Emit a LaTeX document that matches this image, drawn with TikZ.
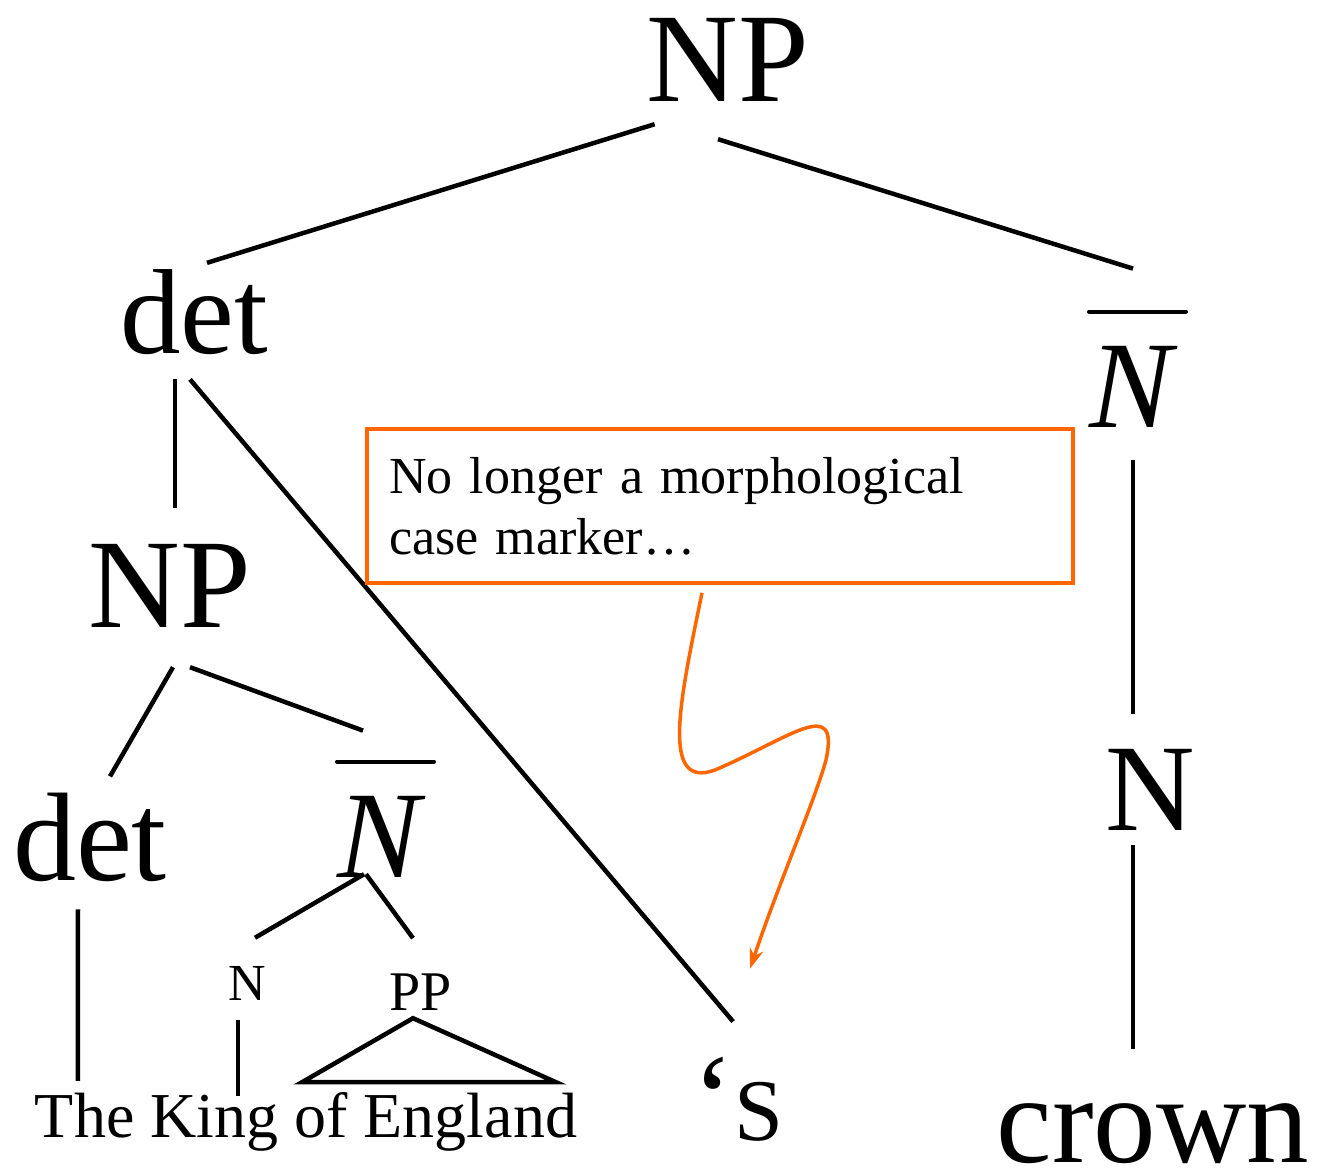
\documentclass[tikz,border=0pt]{standalone}
\usepackage{fontspec}
\setmainfont{Liberation Serif}
\usetikzlibrary{calc,arrows.meta}
\definecolor{calloutorange}{RGB}{255,102,0}

\begin{document}
\begin{tikzpicture}[x=1pt, y=-1pt, >={Stealth[length=20pt,width=14pt]},
    branch/.style={line width=4.5pt},
    cat/.style={anchor=base, inner sep=0pt, font=\fontsize{125}{125}\selectfont},
    leaf/.style={anchor=base, inner sep=0pt, font=\fontsize{#1}{#1}\selectfont}]
    \useasboundingbox (0,0) rectangle (1319,1175);

    % Categories
    \node[cat, font=\fontsize{127}{127}\selectfont] (npTop) at (728,101) {NP};
    \node[cat, font=\fontsize{121}{121}\selectfont] (detA) at (194,353) {det};
    \node[cat, font=\fontsize{124}{124}\selectfont] (nbarR) at (1134,427) {\textit{N}};
    \node[cat, font=\fontsize{127}{127}\selectfont] (npMid) at (170,627) {NP};
    \node[cat, font=\fontsize{126}{126}\selectfont] (detB) at (90,880) {det};
    \node[cat, font=\fontsize{124}{124}\selectfont] (nbarL) at (382,877) {\textit{N}};
    \node[cat, font=\fontsize{124}{124}\selectfont] (nR) at (1150,830) {N};
    \node[cat] (crown) at (1153,1162) {crown};
    \node[leaf=52] (nS) at (247,1000) {N};
    \node[leaf=56] (pp) at (421,1010) {PP};
    \node[leaf=64] (words) at (306,1137) {The King of England};
    \node[cat, anchor=base west] (poss) at (692.6,1140) {‘\fontsize{88}{88}\selectfont S};

    % Bars over N
    \foreach \n in {nbarR,nbarL}
        \draw[line width=4pt, line cap=round] ($(\n.north)+(-45,-34)$) -- ($(\n.north)+(52,-34)$);

    % Branches
    \draw[branch] ($(npTop.south west)+(8,23)$) -- ($(detA.north)+(13,-6)$);
    \draw[branch] ($(npTop.south)+(-10,38)$) -- ($(nbarR.north)+(-1,-77)$);
    \draw[branch] ($(detA.south)+(-19,25)$) -- ($(npMid.north)+(5,-36)$);
    \draw[branch] ($(detA.south)+(-4,25)$) -- ($(poss.north)+(-5,-35)$);
    \draw[branch] ($(nbarR.south)+(-1,33)$) -- ($(nR.north)+(-17,-35)$);
    \draw[branch] ($(nR.south)+(-17,15)$) -- ($(crown.north)+(-20,-54)$);
    \draw[branch] ($(npMid.south)+(3,40)$) -- ($(detB.north)+(20,-16)$);
    \draw[branch] ($(npMid.south)+(20,40)$) -- ($(nbarL.north)+(-19,-65)$);
    \draw[branch] ($(detB.south)+(-12,28)$) -- ($(words.north west)+(43,-11)$);
    \draw[branch] ($(nbarL.south)+(-18,-3)$) -- ($(nS.north)+(8,-28)$);
    \draw[branch] ($(nbarL.south)+(-16,-3)$) -- ($(pp.north)+(-8,-35)$);
    \draw[branch] ($(nS.south)+(-9,20)$) -- ($(words.north)+(-68,4)$);
    \draw[branch] ($(pp.south)+(-8,8)$) -- ++(-111,64) -- ++(254,0) -- cycle;

    % Callout
    \node[draw=calloutorange, line width=4pt, anchor=north west, inner xsep=22pt, inner ysep=28pt,
          text width=662pt, align=left, font=\fontsize{52}{61}\selectfont] (note) at (365,427)
          {No longer a morphological\\case marker…};
    \draw[calloutorange, line width=3.5pt, ->] ($(note.south)+(-18,8)$)
        .. controls (680,700) and (660,790) .. (715,770)
        .. controls (790,738) and (840,695) .. (826,760)
        .. controls (815,800) and (780,880) .. ($(poss.north)+(12,-88)$);
\end{tikzpicture}
\end{document}
